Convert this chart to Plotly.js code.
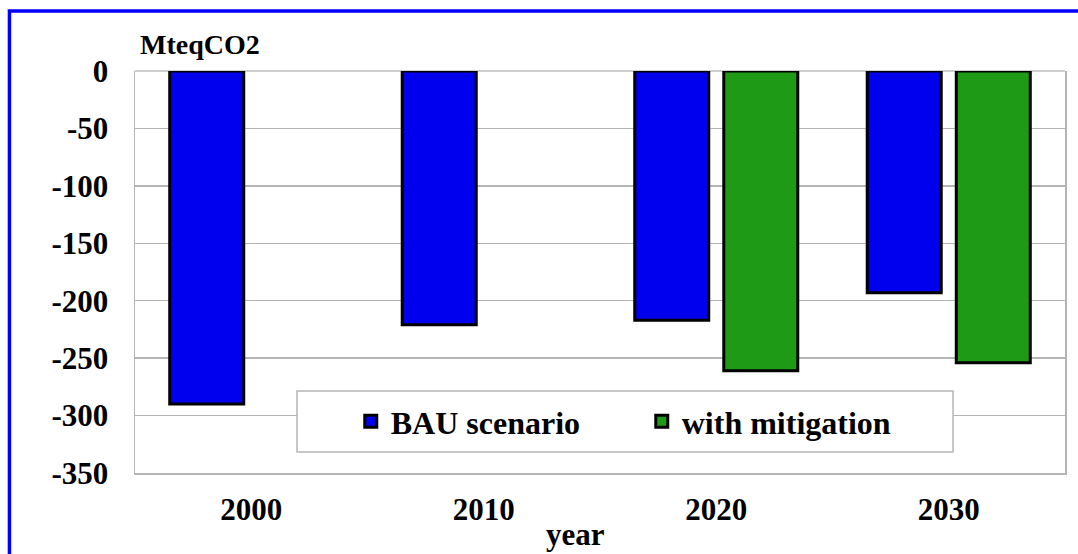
<!DOCTYPE html>
<html>
<head>
<meta charset="utf-8">
<script src="https://cdn.plot.ly/plotly-3.0.1.min.js"></script>
<style>html,body{margin:0;padding:0;background:#fff;}#chart{width:1078px;height:554px;}</style>
</head>
<body>
<div id="chart"></div>
<script>
const years = ['2000', '2010', '2020', '2030'];
const bauScenario = [-290, -221, -217, -193];
const withMitigation = [null, null, -261, -254];
const seriesNames = ['BAU scenario', 'with mitigation'];
const yTicks = [0, -50, -100, -150, -200, -250, -300, -350];
const unitLabel = 'MteqCO2';
const xTitle = 'year';

const serif = '"Liberation Serif", "Times New Roman", serif';
const boldFont = (size) => ({family: serif, size: size, color: '#000', weight: 'bold'});

const traces = [
  {
    type: 'bar', name: seriesNames[0], x: years, y: bauScenario,
    marker: {color: '#0000ee', line: {color: '#000', width: 3}},
    hoverinfo: 'x+y'
  },
  {
    type: 'bar', name: seriesNames[1], x: years, y: withMitigation,
    marker: {color: '#1f9a16', line: {color: '#000', width: 3}},
    hoverinfo: 'x+y'
  }
];

const layout = {
  width: 1078, height: 554,
  margin: {l: 135, r: 13, t: 71, b: 81, pad: 0},
  paper_bgcolor: '#fff', plot_bgcolor: '#fff',
  font: {family: serif},
  barmode: 'group', bargap: 0.234, bargroupgap: 0.169,
  showlegend: true,
  legend: {
    orientation: 'h', x: 0.232, xanchor: 'left', y: 0.128, yanchor: 'middle',
    bgcolor: 'rgba(0,0,0,0)', borderwidth: 0,
    font: boldFont(32), entrywidth: 246, entrywidthmode: 'pixels',
    traceorder: 'normal'
  },
  xaxis: {
    type: 'category', categoryarray: years, range: [-0.5, 3.5],
    showgrid: false, zeroline: false,
    showline: true, linecolor: '#b5b5b5', linewidth: 1.5,
    ticks: '', tickfont: boldFont(31), ticklabelstandoff: 8,
    fixedrange: true
  },
  yaxis: {
    range: [-350, 0], tickvals: yTicks, ticktext: yTicks.map(String),
    showgrid: true, gridcolor: '#b5b5b5', gridwidth: 1.5,
    zeroline: true, zerolinecolor: '#cfcfcf', zerolinewidth: 1.5,
    showline: true, mirror: true, linecolor: '#b5b5b5', linewidth: 1.5,
    ticks: '', tickfont: boldFont(31), ticklabelstandoff: 19,
    fixedrange: true
  },
  shapes: [
    {type: 'rect', xref: 'paper', yref: 'paper', x0: -0.135, x1: 1.03, y0: -0.25, y1: 1.1493,
     line: {color: '#0000ff', width: 3.5}, fillcolor: 'rgba(0,0,0,0)', layer: 'below'},
    {type: 'rect', xref: 'paper', yref: 'paper', x0: 0.1742, x1: 0.8796, y0: 0.0522, y1: 0.204,
     line: {color: '#b5b5b5', width: 1.5}, fillcolor: '#fff', layer: 'above'}
  ],
  annotations: [
    {text: unitLabel, xref: 'paper', yref: 'paper', x: 0.003, y: 1.0647, xanchor: 'left', yanchor: 'middle',
     showarrow: false, font: boldFont(28)},
    {text: xTitle, xref: 'paper', yref: 'paper', x: 0.4737, y: -0.152, xanchor: 'center', yanchor: 'middle',
     showarrow: false, font: boldFont(31)}
  ]
};

Plotly.newPlot('chart', traces, layout, {displayModeBar: false, staticPlot: true});
</script>
</body>
</html>
